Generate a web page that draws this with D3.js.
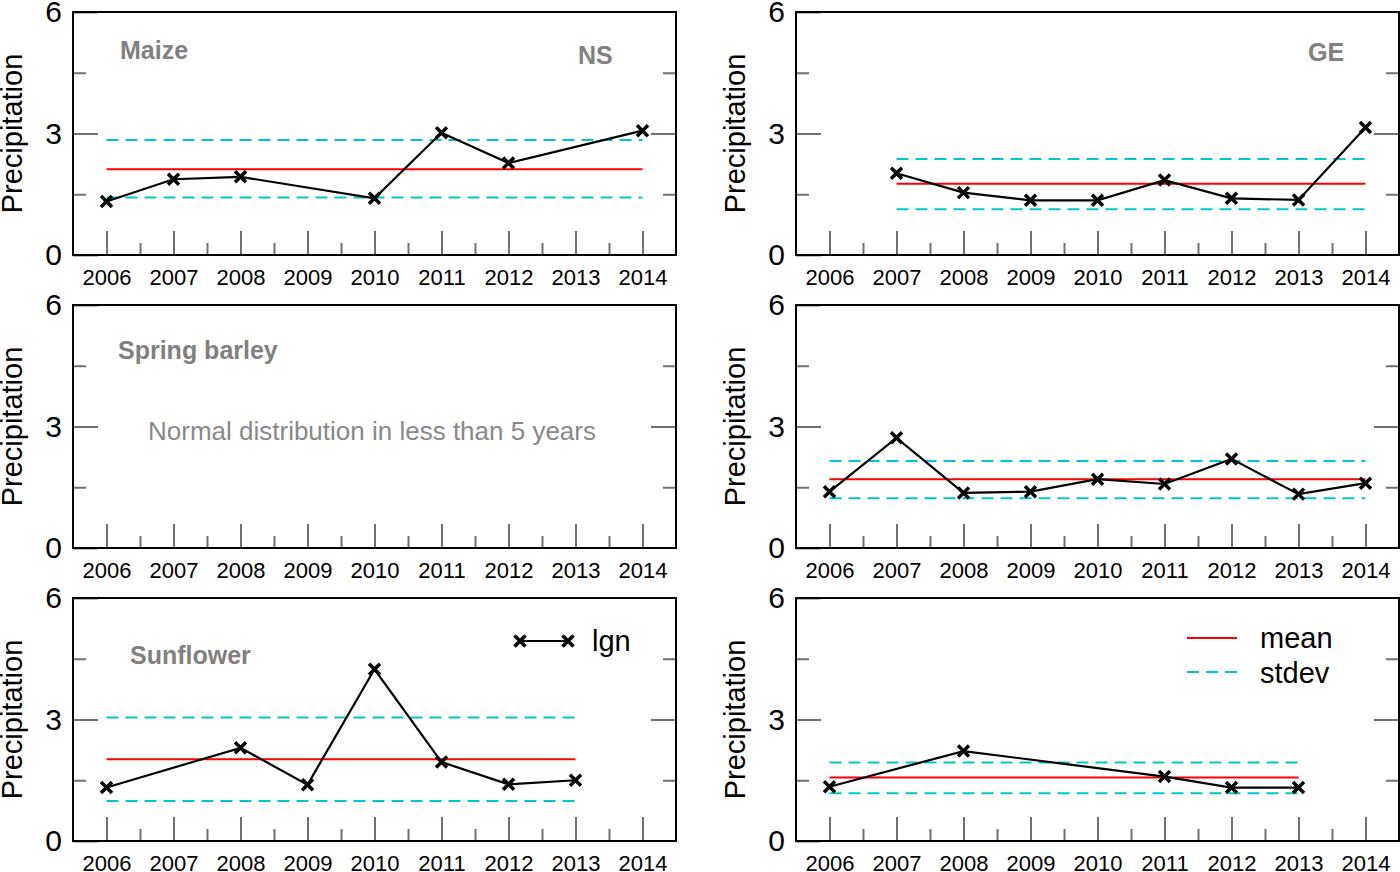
<!DOCTYPE html>
<html>
<head>
<meta charset="utf-8">
<script src="https://cdn.jsdelivr.net/npm/d3@7"></script>
<style>
body { margin: 0; background: #fff; }
text { font-family: "Liberation Sans", Arial, sans-serif; }
</style>
</head>
<body>
<script>
// annee sull'asse x e tick
var years = [2006, 2007, 2008, 2009, 2010, 2011, 2012, 2013, 2014];
var halfYears = [2006.5, 2007.5, 2008.5, 2009.5, 2010.5, 2011.5, 2012.5, 2013.5];
var yMajor = [0, 3, 6];
var yMinor = [1.5, 4.5];

// valori (null = anno mancante)
var maizeNS  = [1.32, 1.87, 1.93, null, 1.40, 3.02, 2.27, null, 3.07];
var maizeGE  = [null, 2.02, 1.54, 1.35, 1.35, 1.85, 1.40, 1.36, 3.15];
var barleyNS = [null, null, null, null, null, null, null, null, null];
var barleyGE = [1.39, 2.72, 1.36, 1.39, 1.70, 1.58, 2.20, 1.33, 1.60];
var sunNS    = [1.32, null, 2.30, 1.39, 4.24, 1.95, 1.40, 1.50, null];
var sunGE    = [1.34, null, 2.22, null, null, 1.59, 1.32, 1.32, null];

// media e banda stdev per pannello
var means  = [2.12, 1.76, null, 1.70, 2.02, 1.57];
var sdHigh = [2.84, 2.37, null, 2.15, 3.05, 1.94];
var sdLow  = [1.42, 1.13, null, 1.23, 0.99, 1.18];

var series = [maizeNS, maizeGE, barleyNS, barleyGE, sunNS, sunGE];

var W = 603, H = 243;
var colX = [73, 796], rowY = [12, 305, 598];
var GRAY = "#707070";

var svg = d3.select("body").append("svg")
    .attr("width", 1400)
    .attr("height", 872);

var x = d3.scaleLinear().domain([2005.5, 2014.5]).range([0, W]);
var y = d3.scaleLinear().domain([0, 6]).range([H, 0]);

function styleAxis(sel, fs) {
    sel.select(".domain").remove();
    sel.selectAll(".tick line").attr("stroke", GRAY).attr("stroke-width", 2);
    sel.selectAll(".tick text").attr("fill", "#000").style("font-size", fs + "px");
}

var cross = "M-5.5,-5.5L5.5,5.5M-5.5,5.5L5.5,-5.5";

series.forEach(function(vals, i) {
    var g = svg.append("g")
        .attr("transform", `translate(${colX[i % 2]},${rowY[Math.floor(i / 2)]})`);

    // tick minori e maggiori, tutti verso l'interno
    g.append("g").attr("transform", `translate(0,${H})`)
        .call(d3.axisBottom(x).tickValues(halfYears).tickSizeInner(-12).tickSizeOuter(0).tickFormat(""))
        .call(styleAxis, 22);
    g.append("g").attr("transform", `translate(0,${H})`)
        .call(d3.axisBottom(x).tickValues(years).tickSizeInner(-24).tickSizeOuter(0)
            .tickPadding(14).tickFormat(d3.format("d")))
        .call(styleAxis, 22);
    g.append("g")
        .call(d3.axisLeft(y).tickValues(yMinor).tickSizeInner(-13).tickSizeOuter(0).tickFormat(""))
        .call(styleAxis, 30);
    g.append("g")
        .call(d3.axisLeft(y).tickValues(yMajor).tickSizeInner(-25).tickSizeOuter(0)
            .tickPadding(11).tickFormat(d3.format("d")))
        .call(styleAxis, 30);
    g.append("g").attr("transform", `translate(${W},0)`)
        .call(d3.axisRight(y).tickValues(yMinor).tickSizeInner(-13).tickSizeOuter(0).tickFormat(""))
        .call(styleAxis, 30);
    g.append("g").attr("transform", `translate(${W},0)`)
        .call(d3.axisRight(y).tickValues([3]).tickSizeInner(-25).tickSizeOuter(0).tickFormat(""))
        .call(styleAxis, 30);

    // cornice
    g.append("rect")
        .attr("width", W).attr("height", H)
        .attr("fill", "none").attr("stroke", "#000").attr("stroke-width", 2);

    // etichetta asse y
    g.append("text")
        .attr("transform", `translate(-51,${H / 2}) rotate(-90)`)
        .attr("text-anchor", "middle")
        .style("font-size", "29px")
        .text("Precipitation");

    var pts = years.map((yr, j) => ({ yr: yr, v: vals[j] })).filter(d => d.v != null);
    if (pts.length) {
        var x0 = x(pts[0].yr), x1 = x(pts[pts.length - 1].yr);
        [sdHigh[i], sdLow[i]].forEach(function(s) {
            g.append("line")
                .attr("x1", x0).attr("x2", x1).attr("y1", y(s)).attr("y2", y(s))
                .attr("stroke", "#00c8c8").attr("stroke-width", 2)
                .attr("stroke-dasharray", "12,7");
        });
        g.append("line")
            .attr("x1", x0).attr("x2", x1).attr("y1", y(means[i])).attr("y2", y(means[i]))
            .attr("stroke", "#ff0000").attr("stroke-width", 2);

        g.append("path")
            .datum(pts)
            .attr("fill", "none").attr("stroke", "#000").attr("stroke-width", 2.2)
            .attr("d", d3.line().x(d => x(d.yr)).y(d => y(d.v)));
        g.selectAll(".mk").data(pts).enter().append("path")
            .attr("transform", d => `translate(${x(d.yr)},${y(d.v)})`)
            .attr("d", cross).attr("stroke", "#000").attr("stroke-width", 3.5);
    }
});

// testi dei pannelli
function label(i, dx, dy, txt, fs, bold, fill) {
    svg.append("text")
        .attr("x", colX[i % 2] + dx)
        .attr("y", rowY[Math.floor(i / 2)] + dy)
        .attr("fill", fill || "#808080")
        .style("font-size", fs + "px")
        .style("font-weight", bold ? "bold" : "normal")
        .text(txt);
}
label(0, 47, 47, "Maize", 25, true);
label(0, 505, 52, "NS", 25, true);
label(1, 512, 49, "GE", 25, true);
label(2, 45, 54, "Spring barley", 25, true);
label(2, 75, 135, "Normal distribution in less than 5 years", 26, false, "#888888");
label(4, 57, 66, "Sunflower", 25, true);

// legenda lgn
var lg = svg.append("g").attr("transform", `translate(${colX[0]},${rowY[2]})`);
lg.append("line").attr("x1", 447).attr("x2", 495).attr("y1", 43).attr("y2", 43)
    .attr("stroke", "#000").attr("stroke-width", 2);
[447, 495].forEach(function(px) {
    lg.append("path").attr("transform", `translate(${px},43)`)
        .attr("d", cross).attr("stroke", "#000").attr("stroke-width", 3.5);
});
label(4, 519, 53, "lgn", 29, false, "#000");

// legenda mean / stdev
var lg2 = svg.append("g").attr("transform", `translate(${colX[1]},${rowY[2]})`);
lg2.append("line").attr("x1", 391).attr("x2", 441).attr("y1", 40).attr("y2", 40)
    .attr("stroke", "#ff0000").attr("stroke-width", 2);
lg2.append("line").attr("x1", 391).attr("x2", 441).attr("y1", 74).attr("y2", 74)
    .attr("stroke", "#00c8c8").attr("stroke-width", 2).attr("stroke-dasharray", "12,7");
label(5, 464, 50, "mean", 29, false, "#000");
label(5, 464, 85, "stdev", 29, false, "#000");
</script>
</body>
</html>
